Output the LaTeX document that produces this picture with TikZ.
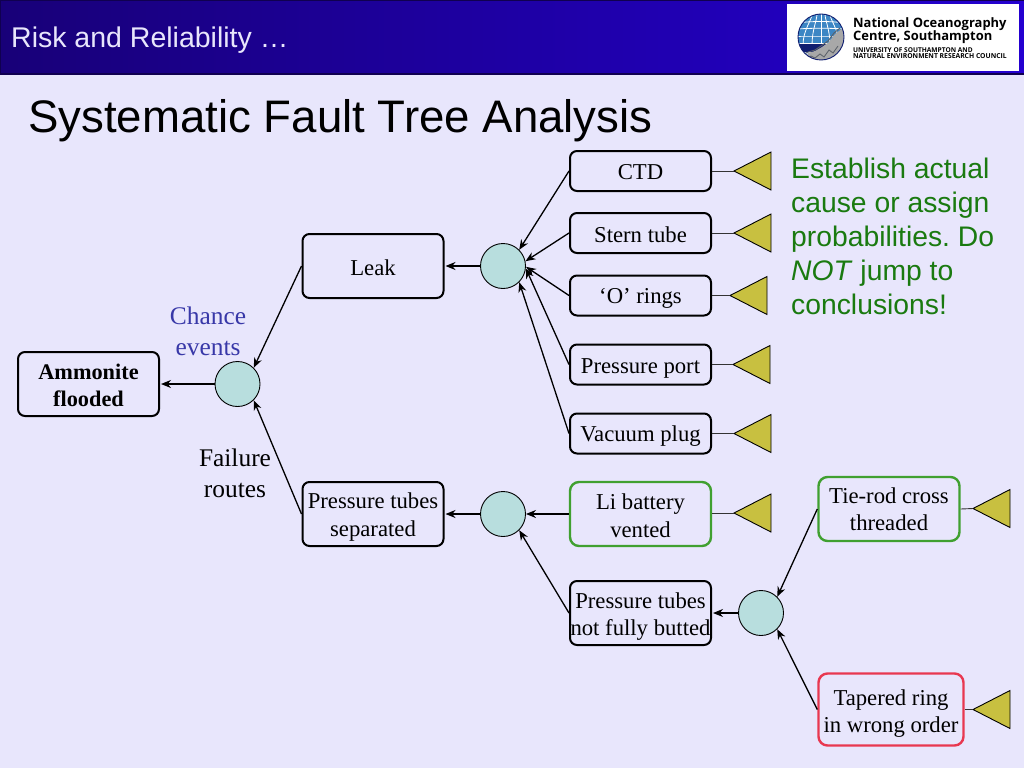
\documentclass[tikz,border=0pt]{standalone}
\usepackage{fontspec}
\setmainfont{Liberation Serif}
\newfontfamily\arialf{Liberation Sans}
\newfontfamily\logof{Open Sans}
\usetikzlibrary{arrows.meta}
\definecolor{bgc}{HTML}{E8E6FC}
\definecolor{circc}{HTML}{B8DEDE}
\definecolor{tric}{HTML}{C8C040}
\definecolor{grn}{HTML}{40A030}
\definecolor{redb}{HTML}{E83850}
\definecolor{txtg}{HTML}{1A7A10}
\definecolor{txtb}{HTML}{3838A8}
\definecolor{hdl}{HTML}{180078}
\definecolor{hdr}{HTML}{2400D0}
\definecolor{hde}{HTML}{100050}
\definecolor{gsky}{HTML}{3C86C4}
\definecolor{gsea}{HTML}{101E70}
\definecolor{grock}{HTML}{A8A8A8}
\definecolor{gdark}{HTML}{5A6068}
\newcommand{\dn}[1]{\rule{0pt}{#1pt}}
\tikzset{
  box/.style={draw=black,line width=2pt,rounded corners=7pt,inner sep=0pt,align=center,
    font=\fontsize{22.7}{27.5}\selectfont},
  colbox/.style={box,line width=2.4pt,rounded corners=9pt},
  gate/.style={circle,draw=black,line width=0.9pt,fill=circc,minimum size=45pt,inner sep=0pt},
  arr/.style={line width=1.3pt,-{Stealth[length=10pt,width=8pt]}},
  stem/.style={line width=0.9pt,draw=black!80},
  tri/.style={draw=black,line width=0.9pt,fill=tric},
  lab/.style={font=\fontsize{25.4}{31}\selectfont,align=center,inner sep=0pt}
}
\newcommand{\tria}[2]{\coordinate (#1) at #2; \draw[tri] (#1) -- ++(37,-19) -- ++(0,38) -- cycle;}
\begin{document}
\begin{tikzpicture}[x=1pt,y=-1pt]
\useasboundingbox (0,0) rectangle (1024,768);
\fill[bgc] (0,0) rectangle (1024,768);
% header
\shade[left color=hdl, right color=hdr] (0,0) rectangle (1024,74);
\draw[hde,line width=1.2pt] (0,74) -- (1024,74);
\draw[hde,line width=1pt] (0,0.5) -- (1024,0.5);
\draw[hde,line width=1pt] (0.5,0) -- (0.5,74);
\node[anchor=west,inner sep=0pt,text=bgc,font=\arialf\fontsize{28.5}{32}\selectfont] (hdrtxt) at (11,40) {Risk and Reliability …};
\node[anchor=west,inner sep=0pt,text=black,font=\arialf\fontsize{45.6}{52}\selectfont] (title) at (28,121) {Systematic Fault Tree Analysis};
% logo
\fill[white] (787,4) rectangle (1019,71);
\begin{scope}
\clip (821,37) circle (23);
\fill[gsky] (798,14) rectangle (844,44);
\foreach \a/\b in {803/812,812/817,821/821,830/825,839/830} \draw[white,line width=.8pt] (\b,14) .. controls (\b,20) and (\a,30) .. (\a,45);
\foreach \y/\k in {21/2,28/1,36/0} \draw[white,line width=.8pt] (798,\y+\k) .. controls (810,\y) and (832,\y) .. (844,\y+\k);
\fill[gsea] (798,43) rectangle (844,52);
\draw[white,line width=.8pt] (798,43.5) -- (830,43.5);
\fill[white!70!gsky] (798,52) rectangle (844,62);
\fill[grock] (806,62) -- (808,53) -- (815,51) -- (822,47) -- (829,42) -- (835,34) -- (839,31) -- (846,26) -- (846,62) -- cycle;
\draw[gdark,line width=.9pt] (802,55) -- (808,52) -- (815,50) -- (821,46) -- (828,41) -- (834,33) -- (840,28);
\draw[gdark,line width=.8pt] (806,59) -- (811,56) -- (815,58) -- (820,54) -- (824,57) -- (829,50) -- (833,53) -- (838,46);
\end{scope}
\draw[gsea,line width=.9pt] (821,37) circle (23);
\node[anchor=west,inner sep=0pt,font=\logof\bfseries\fontsize{12.95}{15}\selectfont] (lg1) at (853,24.5) {National Oceanography};
\node[anchor=west,inner sep=0pt,font=\logof\bfseries\fontsize{12.95}{15}\selectfont] (lg2) at (853,37.5) {Centre, Southampton};
\node[anchor=west,inner sep=0pt,font=\logof\bfseries\fontsize{6.6}{7}\selectfont] (lg3) at (853,50) {UNIVERSITY OF SOUTHAMPTON AND};
\node[anchor=west,inner sep=0pt,font=\logof\bfseries\fontsize{6.8}{7}\selectfont] (lg4) at (853,56.5) {NATURAL ENVIRONMENT RESEARCH COUNCIL};
% boxes
\node[box,minimum width=141pt,minimum height=64pt,font=\bfseries\fontsize{22.3}{27}\selectfont] (amm) at (88.5,384) {\dn{17.5}Ammonite\\flooded};
\node[box,minimum width=141pt,minimum height=64pt] (leak) at (373,266) {\dn{18.5}Leak};
\node[box,minimum width=141pt,minimum height=64pt] (sep) at (373,514) {\dn{21.5}Pressure tubes\\separated};
\node[box,minimum width=141pt,minimum height=40pt] (ctd) at (640.5,171) {\dn{18.2}CTD};
\node[box,minimum width=141pt,minimum height=40pt] (stern) at (640.5,233) {\dn{19.5}Stern tube};
\node[box,minimum width=141pt,minimum height=40pt] (oring) at (640.5,295.5) {\dn{21.5}‘O’ rings};
\node[box,minimum width=141pt,minimum height=40pt] (port) at (640.5,364.5) {\dn{22.5}Pressure port};
\node[box,minimum width=141pt,minimum height=40pt] (vac) at (640.5,433.5) {\dn{21.5}Vacuum plug};
\node[colbox,draw=grn,minimum width=141pt,minimum height=64pt] (li) at (640.5,514) {\dn{19.5}Li battery\\vented};
\node[box,minimum width=141pt,minimum height=64pt] (butt) at (640.5,613) {\dn{22.5}Pressure tubes\\not fully butted};
\node[colbox,draw=grn,minimum width=141pt,minimum height=64pt] (tie) at (889,509) {\dn{16.5}Tie-rod cross\\threaded};
\node[colbox,draw=redb,minimum width=145pt,minimum height=72pt] (ring) at (891,709.5) {\dn{23.5}Tapered ring\\in wrong order};
% gates
\node[gate] (g0) at (237.5,384) {};
\node[gate] (g1) at (503,266) {};
\node[gate] (g2) at (503,514) {};
\node[gate] (g3) at (761,613) {};
% connectors
\draw[arr] (g0.west) -- ([xshift=1pt]amm.east);
\draw[arr] (leak.west) -- (g0.north east);
\draw[arr] (sep.west) -- (g0.south east);
\draw[arr] (g1.west) -- ([xshift=1pt]leak.east);
\draw[arr] (g2.west) -- ([xshift=1pt]sep.east);
\draw[arr] (ctd.west) -- (g1.45);
\draw[arr] (stern.west) -- (g1.12);
\draw[arr] (oring.west) -- (g1.-2);
\draw[arr] (port.west) -- (g1.-6);
\draw[arr] (vac.west) -- (g1.-45);
\draw[arr] (li.west) -- (g2.east);
\draw[arr] (butt.west) -- (g2.-45);
\draw[arr] (g3.west) -- ([xshift=1pt]butt.east);
\draw[arr] (tie.west) -- (g3.45);
\draw[arr] (ring.west) -- (g3.-45);
% triangles
\tria{t1}{(734,171)} \draw[stem] (ctd.east) -- (t1);
\tria{t2}{(734,233)} \draw[stem] (stern.east) -- (t2);
\tria{t3}{(730,295.5)} \draw[stem] (oring.east) -- (t3);
\tria{t4}{(733,364.5)} \draw[stem] (port.east) -- (t4);
\tria{t5}{(734,433.5)} \draw[stem] (vac.east) -- (t5);
\tria{t6}{(734,513)} \draw[stem] (li.east |- t6) -- (t6);
\tria{t7}{(973,508.5)} \draw[stem] (tie.east) -- (t7);
\tria{t8}{(973,709.5)} \draw[stem] (ring.east) -- (t8);
% labels
\node[lab,text=txtb] (chance) at (208,331) {Chance\\events};
\node[lab] (fail) at (235,473) {Failure\\routes};
\node[anchor=north west,inner sep=0pt,align=left,text=txtg,font=\arialf\fontsize{28.3}{34}\selectfont\frenchspacing] (note) at (791,157.5) {Establish actual\\cause or assign\\probabilities.\ Do\\\textit{NOT} jump to\\conclusions!};
\end{tikzpicture}
\end{document}
